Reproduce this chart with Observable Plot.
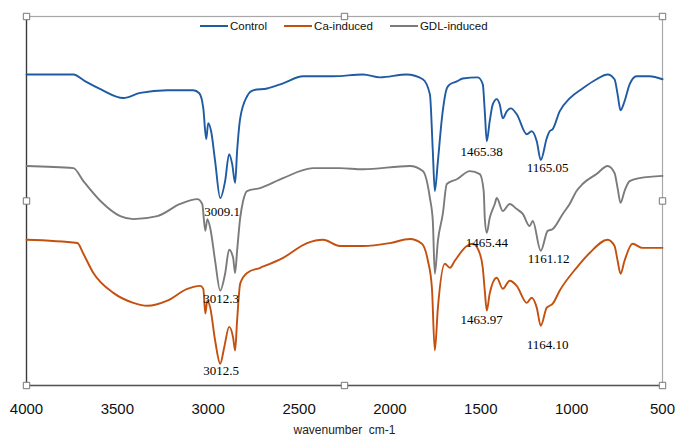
<!DOCTYPE html>
<html>
<head>
<meta charset="utf-8">
<script src="https://cdn.jsdelivr.net/npm/d3@7"></script>
<script src="https://cdn.jsdelivr.net/npm/@observablehq/plot@0.6"></script>
<style>
  html, body { margin: 0; padding: 0; background: white; }
  #wrap { position: relative; width: 676px; height: 438px; }
  #legend { position: absolute; top: 20px; left: 200px; display: flex; align-items: center;
            font-family: "Liberation Sans", Arial, sans-serif; font-size: 11.5px; color: #111; }
  #legend .item { display: flex; align-items: center; margin-right: 17px; }
  #legend .sw { width: 28px; height: 2px; margin-right: 2px; }
</style>
</head>
<body>
<div id="wrap"><div id="legend"></div></div>
<script>
// wavenumber (cm-1) and relative transmittance (a.u.)
const seriesNames = ["Control", "Ca-induced", "GDL-induced"];
const seriesColors = ["#1f5ba3", "#c4500f", "#7b7b7b"];
const xTicks = [4000, 3500, 3000, 2500, 2000, 1500, 1000, 500];

const controlWn = [4000,3742,3676,3593,3467,3374,3225,3082,3049,3027,3011,3000,2984,2962,2934,2907,2885,2868,2852,2841,2824,2786,2753,2676,2588,2478,2313,2148,2055,1907,1819,1780,1764,1753,1736,1714,1687,1670,1632,1599,1516,1489,1478,1467,1451,1434,1412,1396,1379,1357,1335,1302,1247,1220,1192,1170,1137,1121,1104,1066,1011,940,863,802,764,747,731,709,681,643,571,500];
const controlT  = [84.3,84.3,82.4,80.3,77.9,79.3,80.0,80.0,79.2,75.1,66.8,71.1,68.9,60.8,50.8,55.4,62.7,60.0,54.9,63.5,72.4,78.4,80.0,80.5,81.9,83.8,83.8,84.3,83.5,84.3,83.0,78.9,63.5,52.7,60.8,72.4,80.5,81.6,82.4,83.2,83.5,81.6,74.3,66.2,71.6,76.2,77.6,76.2,72.4,74.3,75.1,73.5,68.1,68.9,66.2,61.1,67.0,68.9,69.5,74.3,77.8,80.5,83.0,84.3,83.0,78.9,74.6,77.0,81.6,83.8,83.8,83.0];

const gdlWn = [4000,3742,3687,3593,3484,3412,3280,3154,3060,3033,3016,3005,2989,2962,2934,2907,2885,2863,2852,2841,2824,2808,2786,2714,2588,2423,2275,2148,1890,1819,1780,1764,1753,1736,1709,1687,1632,1560,1505,1484,1478,1467,1451,1423,1412,1379,1341,1302,1269,1231,1214,1170,1132,1104,1049,1011,973,940,863,802,764,747,731,709,681,626,500];
const gdlT  = [59.5,58.9,55.4,50.0,45.9,45.1,45.9,49.2,50.5,49.2,41.9,45.1,42.7,33.8,25.7,30.3,36.8,34.6,30.5,36.5,45.4,50.0,52.7,53.5,56.2,58.9,58.9,58.6,59.5,58.1,50.8,44.6,30.3,39.2,46.5,54.6,55.9,58.1,57.3,52.7,45.4,41.4,45.4,49.2,50.8,47.3,49.2,47.8,46.5,43.2,44.6,36.5,41.9,42.4,46.5,49.2,52.7,54.6,57.3,59.5,57.6,53.5,49.5,52.7,55.4,56.2,56.8];

const caWn = [4000,3720,3687,3632,3522,3412,3335,3225,3115,3044,3027,3016,3005,2989,2962,2934,2912,2885,2863,2852,2841,2824,2786,2714,2588,2456,2368,2275,2148,2000,1890,1824,1791,1769,1753,1736,1698,1670,1643,1577,1544,1505,1489,1478,1467,1451,1412,1379,1341,1302,1247,1220,1192,1170,1137,1121,1104,1066,973,901,802,764,747,731,709,665,610,500];
const caT  = [39.5,38.6,35.7,30.5,25.1,22.4,21.6,23.0,26.2,27.0,26.2,19.5,23.0,21.1,12.2,5.9,10.3,15.9,13.0,9.5,17.6,27.6,30.5,31.9,34.6,38.6,39.5,37.8,37.8,38.6,39.7,38.4,33.8,26.5,9.5,21.1,33.0,31.9,33.8,37.8,38.4,35.7,31.9,25.7,20.3,24.9,29.2,26.2,28.4,27.0,22.4,23.8,21.1,16.2,21.1,21.6,22.2,25.7,31.9,35.9,39.5,37.8,33.8,30.3,33.8,38.4,37.3,37.3];

// peak annotations: label text and where it sits
const annText = ["3009.1","3012.3","3012.5","1465.38","1165.05","1465.44","1161.12","1463.97","1164.10"];
const annWn   = [2923, 2929, 2929, 1495, 1132, 1467, 1126, 1495, 1132];
const annT    = [47.0, 23.5, 4.1, 63.2, 58.9, 38.6, 34.3, 17.8, 11.1];

const toRows = (name, wn, t) => wn.map((w, i) => ({series: name, wn: w, t: t[i]}));
const rows = [
  ...toRows("Control", controlWn, controlT),
  ...toRows("GDL-induced", gdlWn, gdlT),
  ...toRows("Ca-induced", caWn, caT)
];
const ann = annText.map((s, i) => ({text: s, wn: annWn[i], t: annT[i]}));

const anchors = ["top-left","top","top-right","left","right","bottom-left","bottom","bottom-right"];

const chart = Plot.plot({
  width: 676,
  height: 438,
  marginLeft: 26,
  marginRight: 14,
  marginTop: 16,
  marginBottom: 53,
  style: {fontFamily: "Liberation Sans, Arial, sans-serif", fontSize: "15px", background: "white", color: "#111"},
  x: {domain: [4000, 500]},
  y: {domain: [0, 100], axis: null},
  color: {domain: seriesNames, range: seriesColors},
  marks: [
    Plot.frame({stroke: "#a8a8a8", strokeWidth: 1.2}),
    Plot.ruleX([4000], {stroke: "#3a3a3a", strokeWidth: 1.3}),
    Plot.ruleY([0], {stroke: "#555", strokeWidth: 1.3}),
    Plot.axisX({ticks: xTicks, tickSize: 0, tickPadding: 18, tickFormat: d => String(d), label: null, fontSize: 15}),
    Plot.line(rows, {x: "wn", y: "t", z: "series", stroke: "series", strokeWidth: 1.9, strokeLinejoin: "round", curve: "monotone-x"}),
    Plot.text(ann, {x: "wn", y: "t", text: "text", fontFamily: "Liberation Serif, Times New Roman, serif", fontSize: 13, fill: "#000", textAnchor: "middle", lineAnchor: "middle"}),
    Plot.text(["wavenumber\u00a0\u00a0cm-1"], {frameAnchor: "bottom", dy: 45, fontSize: 12, fill: "#222", lineAnchor: "middle"}),
    ...anchors.map(a => Plot.dot([0], {frameAnchor: a, symbol: "square", r: 3.6, fill: "white", stroke: "#777", strokeWidth: 1}))
  ]
});
document.getElementById("wrap").prepend(chart);

const legend = document.getElementById("legend");
const order = ["Control", "Ca-induced", "GDL-induced"];
order.forEach(name => {
  const item = document.createElement("div");
  item.className = "item";
  const sw = document.createElement("span");
  sw.className = "sw";
  sw.style.background = seriesColors[seriesNames.indexOf(name)];
  const tx = document.createElement("span");
  tx.textContent = name;
  item.append(sw, tx);
  legend.append(item);
});
</script>
</body>
</html>
